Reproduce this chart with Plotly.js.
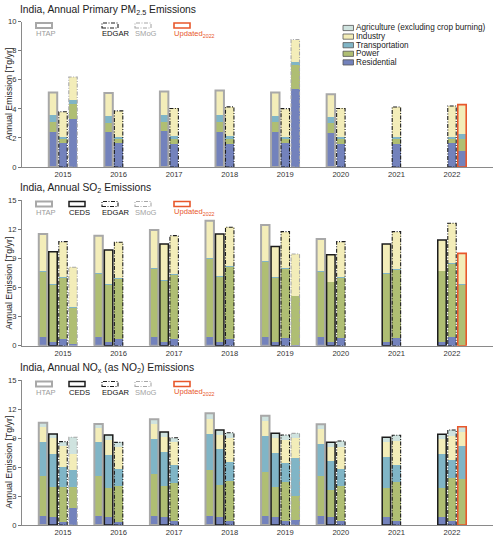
<!DOCTYPE html>
<html>
<head>
<meta charset="utf-8">
<script src="https://cdn.plot.ly/plotly-3.0.1.min.js"></script>
<style>
  html, body { margin: 0; padding: 0; background: #fff; }
  #chart { width: 500px; height: 540px; }
</style>
</head>
<body>
<div id="chart"></div>
<script>
// ---------------- data (Tg/yr) ----------------
const YEARS = [2015, 2016, 2017, 2018, 2019, 2020, 2021, 2022];
const YEAR_LABELS = ['2015', '2016', '2017', '2018', '2019', '2020', '2021', '2022'];

// Primary PM2.5
const pmHtap = { years: [2015, 2016, 2017, 2018, 2019, 2020],
  residential: [2.42, 2.42, 2.45, 2.40, 2.38, 2.33],
  power:       [0.68, 0.64, 0.68, 0.73, 0.69, 0.69],
  transport:   [0.46, 0.43, 0.42, 0.42, 0.41, 0.39],
  industry:    [1.56, 1.60, 1.64, 1.71, 1.65, 1.60] };
const pmEdgar = { years: [2015, 2016, 2017, 2018, 2019, 2020, 2021, 2022],
  residential: [1.62, 1.62, 1.60, 1.60, 1.62, 1.60, 1.58, 1.62],
  power:       [0.30, 0.30, 0.32, 0.32, 0.30, 0.33, 0.34, 0.30],
  transport:   [0.16, 0.16, 0.18, 0.18, 0.16, 0.13, 0.16, 0.16],
  industry:    [1.72, 1.78, 1.93, 2.04, 1.94, 1.97, 2.05, 2.12] };
const pmSmog = { years: [2015, 2019],
  residential: [3.27, 5.39],
  power:       [1.09, 1.60],
  transport:   [0.23, 0.27],
  industry:    [1.60, 1.51] };
const pmUpdated = { years: [2022],
  residential: [1.10], power: [0.80], transport: [0.34], industry: [2.05] };

// SO2
const so2Htap = { years: [2015, 2016, 2017, 2018, 2019, 2020],
  residential: [0.86, 0.86, 0.86, 0.86, 0.86, 0.86],
  power:       [6.73, 6.56, 7.00, 8.10, 7.76, 6.76],
  transport:   [0.10, 0.10, 0.10, 0.10, 0.10, 0.10],
  industry:    [3.81, 3.81, 3.95, 3.81, 3.71, 3.27] };
const so2Ceds = { years: [2015, 2016, 2017, 2018, 2019, 2020, 2021, 2022],
  residential: [0.35, 0.35, 0.41, 0.41, 0.41, 0.41, 0.41, 0.41],
  power:       [5.90, 5.90, 6.28, 6.69, 6.56, 6.11, 6.97, 7.24],
  transport:   [0.07, 0.07, 0.07, 0.07, 0.07, 0.07, 0.07, 0.07],
  industry:    [3.36, 3.54, 3.71, 4.33, 3.16, 2.78, 3.02, 3.16] };
const so2Edgar = { years: [2015, 2016, 2017, 2018, 2019, 2020, 2021, 2022],
  residential: [0.69, 0.69, 0.69, 0.69, 0.76, 0.76, 0.82, 0.86],
  power:       [6.25, 6.15, 6.56, 7.45, 7.10, 6.25, 6.98, 7.52],
  transport:   [0.10, 0.10, 0.10, 0.10, 0.10, 0.10, 0.10, 0.10],
  industry:    [3.67, 3.71, 3.98, 3.95, 3.78, 3.60, 3.84, 4.12] };
const so2Smog = { years: [2015, 2019],
  residential: [0.17, 0.05],
  power:       [3.73, 5.05],
  transport:   [0.05, 0.05],
  industry:    [4.12, 4.29] };
const so2Updated = { years: [2022],
  residential: [0.00], power: [6.27], transport: [0.05], industry: [3.19] };

// NOx (as NO2)
const noxHtap = { years: [2015, 2016, 2017, 2018, 2019, 2020],
  residential: [0.90, 0.90, 0.95, 0.95, 0.95, 0.95],
  power:       [4.17, 4.17, 4.33, 4.74, 4.57, 4.12],
  transport:   [3.55, 3.51, 3.58, 3.72, 3.69, 3.31],
  industry:    [1.48, 1.42, 1.59, 1.56, 1.55, 1.55],
  agriculture: [0.48, 0.45, 0.48, 0.58, 0.55, 0.48] };
const noxCeds = { years: [2015, 2016, 2017, 2018, 2019, 2020, 2021, 2022],
  residential: [0.80, 0.80, 0.84, 0.84, 0.84, 0.84, 0.84, 0.84],
  power:       [3.16, 3.06, 3.19, 3.30, 3.13, 2.78, 3.02, 3.02],
  transport:   [3.38, 3.38, 3.56, 3.69, 3.51, 3.04, 3.21, 3.45],
  industry:    [1.62, 1.55, 1.55, 1.48, 1.49, 1.37, 1.48, 1.55],
  agriculture: [0.45, 0.52, 0.48, 0.52, 0.51, 0.52, 0.52, 0.52] };
const noxEdgar = { years: [2015, 2016, 2017, 2018, 2019, 2020, 2021, 2022],
  residential: [0.34, 0.34, 0.41, 0.41, 0.41, 0.41, 0.41, 0.41],
  power:       [3.62, 3.73, 3.90, 4.18, 4.07, 3.66, 4.07, 4.42],
  transport:   [2.04, 1.76, 1.85, 1.96, 1.90, 1.72, 1.73, 1.89],
  industry:    [2.17, 2.27, 2.39, 2.48, 2.41, 2.31, 2.51, 2.49],
  agriculture: [0.45, 0.45, 0.48, 0.52, 0.52, 0.59, 0.56, 0.62] };
const noxSmog = { years: [2015, 2019],
  residential: [1.72, 0.52],
  power:       [2.24, 2.51],
  transport:   [1.73, 3.87],
  industry:    [1.62, 2.07],
  agriculture: [1.76, 0.51] };
const noxUpdated = { years: [2022],
  residential: [0.05], power: [4.67], transport: [3.45], industry: [1.49], agriculture: [0.51] };

// ---------------- styling ----------------
const SECTOR_KEYS = ['residential', 'power', 'transport', 'industry', 'agriculture'];
const SECTOR_NAMES = {
  residential: 'Residential', power: 'Power', transport: 'Transportation',
  industry: 'Industry', agriculture: 'Agriculture (excluding crop burning)'
};
const SECTOR_COLORS = {
  residential: '#7382bc', power: '#afbe73', transport: '#80b5c6',
  industry: '#f3edb9', agriculture: '#cfe3df'
};
const DASHDOT = '4px,1.5px,1px,1.5px';
const SOURCE_STYLE = {
  HTAP:    { color: '#a8a8a8', width: 2.0, dash: 'solid', text: '#9c9c9c' },
  CEDS:    { color: '#1c1c1c', width: 1.5, dash: 'solid', text: '#111111' },
  EDGAR:   { color: '#1c1c1c', width: 1.1, dash: DASHDOT, text: '#111111' },
  SMoG:    { color: '#a8a8a8', width: 1.1, dash: DASHDOT, text: '#a3a3a3' },
  Updated: { color: '#e8572b', width: 1.6, dash: 'solid', text: '#e8572b' }
};

const SLOT = 0.18;     // spacing between neighbouring source bars (years)
const BAR_W = 0.152;   // bar width (years)
const FONT = 'Liberation Sans, Arial, Helvetica, sans-serif';

const W = 500, H = 540, ML = 22, MR = 7, MT = 21, MB = 15;
const PW = W - ML - MR, PH = H - MT - MB;
const px = x => (x - ML) / PW;
const py = y => (H - MB - y) / PH;

const traces = [];
const shapes = [];
const annotations = [];

function addSource(ds, slot, sfx, style) {
  const xs = ds.years.map(y => y + slot * SLOT);
  SECTOR_KEYS.forEach(k => {
    if (!ds[k]) return;
    traces.push({
      type: 'bar', x: xs, y: ds[k], width: BAR_W,
      marker: { color: SECTOR_COLORS[k], line: { width: 0 } },
      xaxis: 'x' + sfx, yaxis: 'y' + sfx,
      name: SECTOR_NAMES[k], showlegend: false, hoverinfo: 'name+y'
    });
  });
  ds.years.forEach((yr, i) => {
    const total = SECTOR_KEYS.reduce((s, k) => s + (ds[k] ? ds[k][i] : 0), 0);
    shapes.push({
      type: 'rect', xref: 'x' + sfx, yref: 'y' + sfx, layer: 'above',
      x0: xs[i] - BAR_W / 2, x1: xs[i] + BAR_W / 2, y0: 0, y1: total,
      line: { color: style.color, width: style.width, dash: style.dash },
      fillcolor: 'rgba(0,0,0,0)'
    });
  });
}

// PM2.5 panel
addSource(pmHtap, -1, '', SOURCE_STYLE.HTAP);
addSource(pmEdgar, 0, '', SOURCE_STYLE.EDGAR);
addSource(pmSmog, 1, '', SOURCE_STYLE.SMoG);
addSource(pmUpdated, 1, '', SOURCE_STYLE.Updated);
// SO2 panel
addSource(so2Htap, -2, '2', SOURCE_STYLE.HTAP);
addSource(so2Ceds, -1, '2', SOURCE_STYLE.CEDS);
addSource(so2Edgar, 0, '2', SOURCE_STYLE.EDGAR);
addSource(so2Smog, 1, '2', SOURCE_STYLE.SMoG);
addSource(so2Updated, 1, '2', SOURCE_STYLE.Updated);
// NOx panel
addSource(noxHtap, -2, '3', SOURCE_STYLE.HTAP);
addSource(noxCeds, -1, '3', SOURCE_STYLE.CEDS);
addSource(noxEdgar, 0, '3', SOURCE_STYLE.EDGAR);
addSource(noxSmog, 1, '3', SOURCE_STYLE.SMoG);
addSource(noxUpdated, 1, '3', SOURCE_STYLE.Updated);

// panel titles, y titles and source keys
const PANELS = [
  { title: 'India, Annual Primary PM<sub>2.5</sub> Emissions', titleY: 10, top: 21.7, bottom: 167,
    yTitleY: 94, keyY: 23, sources: ['HTAP', 'EDGAR', 'SMoG', 'Updated'] },
  { title: 'India, Annual SO<sub>2</sub> Emissions', titleY: 188.5, top: 200, bottom: 345.7,
    yTitleY: 283, keyY: 201.5, sources: ['HTAP', 'CEDS', 'EDGAR', 'SMoG', 'Updated'] },
  { title: 'India, Annual NO<sub>x</sub> (as NO<sub>2</sub>) Emissions', titleY: 368.5, top: 380, bottom: 525,
    yTitleY: 462, keyY: 381.5, sources: ['HTAP', 'CEDS', 'EDGAR', 'SMoG', 'Updated'] }
];
const KEY_X = { HTAP: 36, CEDS: 69, EDGAR: 102, SMoG: 135, Updated: 174 };
const KEY_TEXT = { HTAP: 'HTAP', CEDS: 'CEDS', EDGAR: 'EDGAR', SMoG: 'SMoG', Updated: 'Updated<sub>2022</sub>' };

PANELS.forEach(p => {
  annotations.push({
    xref: 'paper', yref: 'paper', x: px(19), y: py(p.titleY), xanchor: 'left', yanchor: 'middle',
    text: p.title, showarrow: false, borderpad: 0, font: { family: FONT, size: 10.3, color: '#222' }
  });
  annotations.push({
    xref: 'paper', yref: 'paper', x: px(8.5), y: py(p.yTitleY), xanchor: 'center', yanchor: 'middle',
    text: 'Annual Emission [Tg/yr]', textangle: -90, showarrow: false, borderpad: 0,
    font: { family: FONT, size: 8.8, color: '#222' }
  });
  p.sources.forEach(s => {
    const st = SOURCE_STYLE[s];
    const x0 = KEY_X[s];
    shapes.push({
      type: 'rect', xref: 'paper', yref: 'paper',
      x0: px(x0), x1: px(x0 + 16), y0: py(p.keyY + 5), y1: py(p.keyY),
      line: { color: st.color, width: st.width, dash: st.dash }, fillcolor: 'rgba(0,0,0,0)'
    });
    annotations.push({
      xref: 'paper', yref: 'paper', x: px(x0 - 1), y: py(p.keyY + 10.5), xanchor: 'left', yanchor: 'middle',
      text: KEY_TEXT[s], showarrow: false, borderpad: 0, font: { family: FONT, size: 7.6, color: st.text }
    });
  });
});

// sector key (top-right of the first panel)
const SECTOR_KEY_ORDER = ['agriculture', 'industry', 'transport', 'power', 'residential'];
SECTOR_KEY_ORDER.forEach((k, i) => {
  const yc = 28 + i * 8.6;
  shapes.push({
    type: 'rect', xref: 'paper', yref: 'paper',
    x0: px(343), x1: px(353.5), y0: py(yc + 2.6), y1: py(yc - 2.6),
    line: { color: '#555', width: 0.8 }, fillcolor: SECTOR_COLORS[k]
  });
  annotations.push({
    xref: 'paper', yref: 'paper', x: px(355), y: py(yc), xanchor: 'left', yanchor: 'middle',
    text: SECTOR_NAMES[k], showarrow: false, borderpad: 0, font: { family: FONT, size: 8.2, color: '#222' }
  });
});

function xAxis(anchor) {
  return {
    domain: [0, 1], anchor: anchor, range: [2014.262, 2022.738],
    tickvals: YEARS, ticktext: YEAR_LABELS, ticks: '',
    showline: true, linecolor: '#8a8a8a', linewidth: 1.2,
    showgrid: false, zeroline: false,
    tickfont: { family: FONT, size: 7.6, color: '#333' }
  };
}
function yAxis(anchor, p, max, step) {
  return {
    domain: [py(p.bottom), Math.min(1, py(p.top))], anchor: anchor, range: [0, max], dtick: step, tick0: 0,
    ticks: 'outside', ticklen: 3, tickcolor: '#777', tickwidth: 1,
    showline: true, linecolor: '#8a8a8a', linewidth: 1,
    showgrid: false, zeroline: false,
    tickfont: { family: FONT, size: 7.6, color: '#333' }
  };
}

const layout = {
  width: W, height: H,
  margin: { l: ML, r: MR, t: MT, b: MB, pad: 0 },
  paper_bgcolor: '#fff', plot_bgcolor: '#fff',
  barmode: 'stack', showlegend: false,
  font: { family: FONT },
  xaxis: xAxis('y'), yaxis: yAxis('x', PANELS[0], 10, 2),
  xaxis2: xAxis('y2'), yaxis2: yAxis('x2', PANELS[1], 15, 3),
  xaxis3: xAxis('y3'), yaxis3: yAxis('x3', PANELS[2], 15, 3),
  shapes: shapes, annotations: annotations
};

Plotly.newPlot('chart', traces, layout, { displayModeBar: false, staticPlot: true });
</script>
</body>
</html>
